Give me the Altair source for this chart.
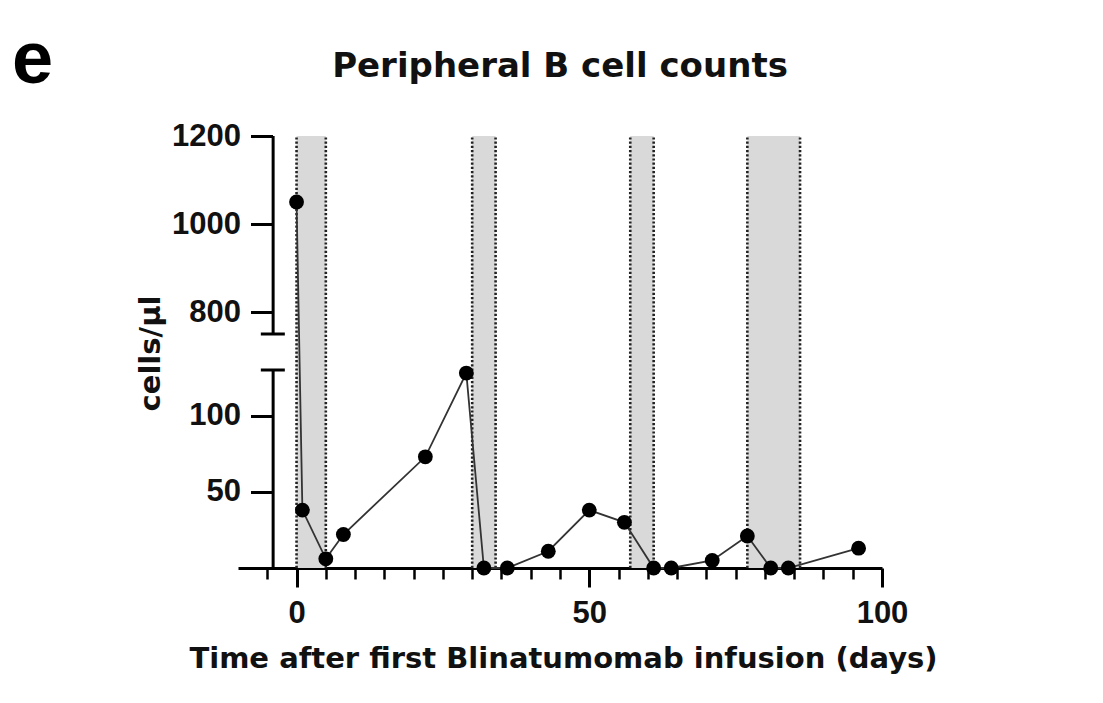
import altair as alt
import pandas as pd

# ---- data ----
days = [0, 1, 5, 8, 22, 29, 32, 36, 43, 50, 56, 61, 64, 71, 77, 81, 84, 96]
counts = [1050, 38, 6, 22, 73, 128, 0, 0, 11, 38, 30, 0, 0, 5, 21, 0, 0, 13]

band_start = [0, 30, 57, 77]
band_end = [5, 34, 61, 86]

x_major = [0, 50, 100]
x_minor = [-5, 5, 10, 15, 20, 25, 30, 35, 40, 45, 55, 60, 65, 70, 75, 80, 85, 90, 95]
y_ticks = [50, 100, 800, 1000, 1200]

# broken y axis: lower segment 0-130, upper segment 750-1200
seg_low = [0, 750]
seg_high = [130, 1200]
break_caps = [130, 750]
yaxis_pos = [-4]
cap_from = [-6.1]
cap_to = [-2.0]

title_text = ["Peripheral B cell counts"]
panel_text = ["e"]

W, H = 644, 432

df = pd.DataFrame({"day": days, "count": counts})
bands = pd.DataFrame({"start": band_start, "end": band_end, "y0": 0, "y1": 1200})
edges = pd.DataFrame({"edge": band_start + band_end, "y0": 0, "y1": 1200})
segs = pd.DataFrame({"lo": seg_low, "hi": seg_high, "x": yaxis_pos * len(seg_low)})
caps = pd.DataFrame({"y": break_caps, "x0": cap_from * 2, "x1": cap_to * 2})

xs = alt.Scale(domain=[-10, 100], nice=False, zero=False)
ys = alt.Scale(domain=[0, 130, 750, 1200], range=[H, 234, 198, 0], nice=False, zero=False)

major_axis = alt.Axis(
    orient="bottom", values=x_major, grid=False, format="d",
    domain=True, domainColor="black", domainWidth=3,
    ticks=True, tickSize=19, tickWidth=3, tickColor="black",
    labelFont="Liberation Sans", labelFontWeight="bold", labelFontSize=31,
    labelColor="#111111", labelPadding=11, labelFlush=False, labelOverlap=False,
    title="Time after first Blinatumomab infusion (days)",
    titleFont="DejaVu Sans", titleFontWeight="bold", titleFontSize=29,
    titleColor="#111111", titleX=325, titleY=99, titleBaseline="alphabetic",
    titleAlign="center",
)
minor_axis = alt.Axis(
    orient="bottom", values=x_minor, grid=False, domain=False,
    ticks=True, tickSize=11, tickWidth=2.5, tickColor="black",
    labels=False, title=None,
)
y_axis = alt.Axis(
    orient="left", values=y_ticks, grid=False, domain=False, format="d",
    ticks=True, tickSize=22, tickWidth=3, tickColor="black", offset=-34.5,
    labelFont="Liberation Sans", labelFontWeight="bold", labelFontSize=31,
    labelColor="#111111", labelPadding=10, labelBaseline="middle",
    labelFlush=False, labelOverlap=False,
    title="cells/µl", titleFont="DejaVu Sans", titleFontWeight="bold",
    titleFontSize=29, titleColor="#111111", titleAngle=270,
    titleX=-122, titleY=217, titleAlign="center", titleBaseline="middle",
)

shade = alt.Chart(bands).mark_rect(color="#d9d9d9").encode(
    x=alt.X("start:Q", scale=xs, axis=major_axis),
    x2="end:Q",
    y=alt.Y("y0:Q", scale=ys, axis=y_axis),
    y2="y1:Q",
)

dotted = alt.Chart(edges).mark_rule(color="#222222", strokeWidth=2.6, strokeDash=[2.2, 2]).encode(
    x=alt.X("edge:Q", scale=xs, axis=minor_axis),
    y=alt.Y("y0:Q", scale=ys, axis=None),
    y2="y1:Q",
)

yline = alt.Chart(segs).mark_rule(color="black", strokeWidth=3).encode(
    x=alt.X("x:Q", scale=xs, axis=None),
    y=alt.Y("lo:Q", scale=ys, axis=None),
    y2="hi:Q",
)

capm = alt.Chart(caps).mark_rule(color="black", strokeWidth=3).encode(
    x=alt.X("x0:Q", scale=xs, axis=None),
    x2="x1:Q",
    y=alt.Y("y:Q", scale=ys, axis=None),
)

line = alt.Chart(df).mark_line(color="#333333", strokeWidth=1.8).encode(
    x=alt.X("day:Q", scale=xs, axis=None),
    y=alt.Y("count:Q", scale=ys, axis=None),
)

pts = alt.Chart(df).mark_point(filled=True, color="black", size=220, opacity=1).encode(
    x=alt.X("day:Q", scale=xs, axis=None),
    y=alt.Y("count:Q", scale=ys, axis=None),
)

panel = alt.Chart(pd.DataFrame({"t": panel_text})).mark_text(
    font="Liberation Sans", fontWeight="bold", fontSize=74, color="black",
    align="left", baseline="alphabetic",
).encode(text="t:N", x=alt.value(-226), y=alt.value(-53))

title = alt.Chart(pd.DataFrame({"t": title_text})).mark_text(
    font="DejaVu Sans", fontWeight="bold", fontSize=34, color="#111111",
    align="center", baseline="alphabetic",
).encode(text="t:N", x=alt.value(322), y=alt.value(-59))

chart = alt.layer(shade, dotted, yline, capm, line, pts, panel, title).resolve_axis(
    x="independent", y="independent"
).properties(
    width=W, height=H,
    background="white",
    autosize=alt.AutoSizeParams(type="none"),
    padding={"left": 230, "top": 128, "right": 200, "bottom": 120},
).configure_view(stroke=None)

chart.save("out.html", embed_options={"renderer": "svg", "actions": False})
